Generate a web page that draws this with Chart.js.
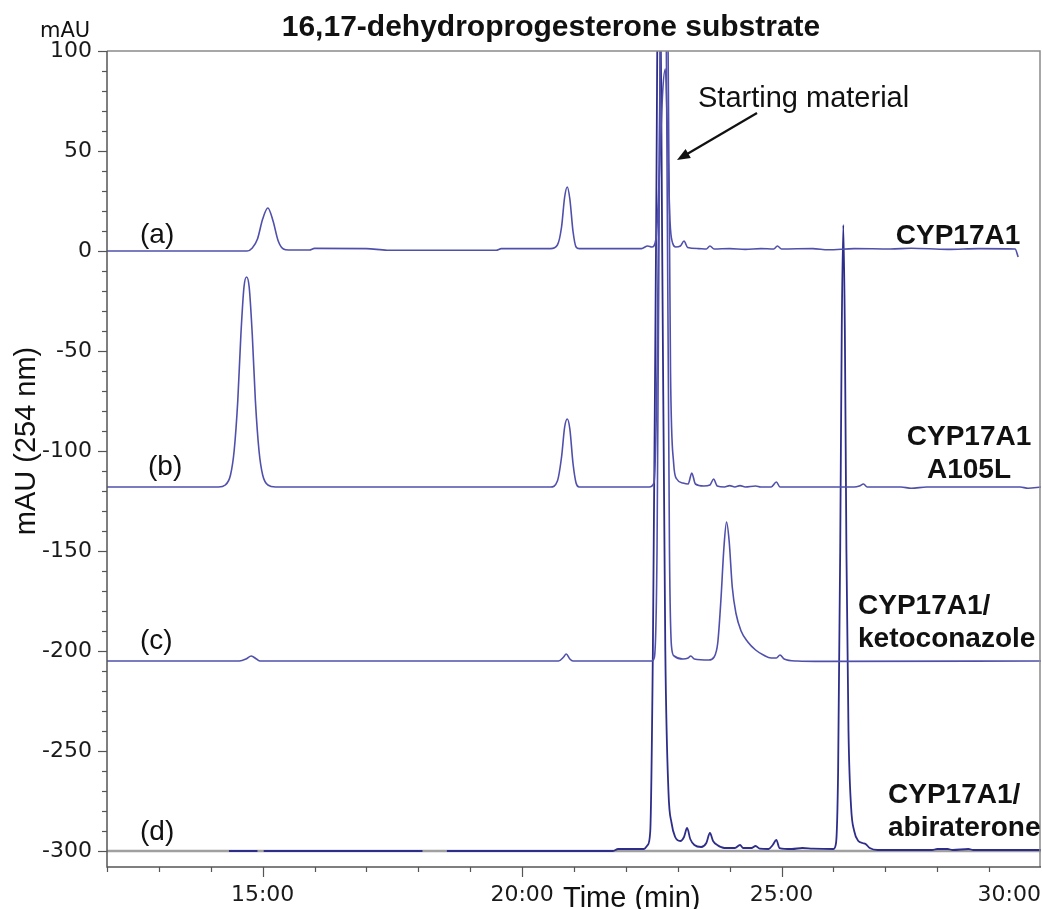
<!DOCTYPE html>
<html><head><meta charset="utf-8">
<script src="https://cdn.jsdelivr.net/npm/chart.js@4/dist/chart.umd.min.js"></script>
<style>html,body{margin:0;padding:0;background:#fff;}#wrap{width:1042px;height:909px;}</style>
</head><body><div id="wrap"><canvas id="c" width="1042" height="909"></canvas></div>
<script>
// ---- data (time in minutes, absorbance in mAU, traces already offset) ----
const traceA = [[12,0],[14.70,0],[14.80,1.5],[14.90,6],[15.00,16],[15.10,21.5],[15.20,15],[15.30,5],[15.40,1],[15.50,0.5],[15.90,0.5],[16.00,1.3],[17.00,1.2],[17.40,0.4],[19.50,0.4],[19.60,1.2],[20.55,1.2],[20.68,3],[20.76,12],[20.82,27],[20.87,32],[20.92,26],[20.98,10],[21.04,2],[21.10,1.2],[22.30,1.2],[22.42,2.5],[22.50,2],[22.58,6],[22.64,35],[22.71,80],[22.76,91],[22.80,60],[22.85,15],[22.90,4],[22.96,2],[23.05,2.5],[23.12,5],[23.19,1.8],[23.40,1.2],[23.55,1],[23.62,2.5],[23.70,1],[24.00,1.2],[24.30,0.8],[24.60,1.2],[24.85,1],[24.92,2.5],[25.00,1],[25.60,1.2],[25.90,0.6],[26.40,1.2],[27.10,1],[27.50,1.4],[28.20,0.8],[28.80,1.2],[29.50,1],[29.56,-3]];
const traceB = [[12,-118],[14.15,-118],[14.28,-117],[14.38,-112],[14.45,-100],[14.52,-75],[14.58,-42],[14.64,-18],[14.69,-13],[14.74,-18],[14.80,-42],[14.86,-75],[14.93,-100],[15.00,-112],[15.10,-117],[15.25,-118],[20.55,-118],[20.68,-115],[20.76,-103],[20.82,-88],[20.87,-84],[20.92,-89],[20.98,-106],[21.04,-116],[21.10,-118],[22.45,-118],[22.54,-116],[22.60,-60],[22.68,150],[22.74,300],[22.80,150],[22.86,-60],[22.92,-106],[22.98,-114],[23.10,-116],[23.20,-116.5],[23.27,-111],[23.34,-116.5],[23.50,-117.5],[23.62,-117],[23.69,-114],[23.76,-117.5],[23.90,-118],[24.00,-117.3],[24.10,-118],[24.20,-117.3],[24.30,-118],[24.50,-117.5],[24.60,-118],[24.80,-118],[24.90,-115.5],[24.97,-118],[26.40,-118],[26.50,-117.5],[26.58,-116.5],[26.65,-118],[27.30,-118],[27.50,-118.6],[27.80,-118],[29.60,-118],[29.75,-118.6],[30,-118]];
const traceC = [[12,-205],[14.55,-205],[14.68,-204],[14.78,-202.5],[14.88,-204],[14.95,-205],[20.70,-205],[20.80,-203],[20.85,-201.5],[20.92,-204],[20.98,-205],[22.50,-205],[22.55,-203],[22.60,-150],[22.66,100],[22.72,300],[22.78,100],[22.84,-150],[22.88,-198],[22.93,-202.5],[23.10,-204],[23.20,-203.5],[23.25,-202.5],[23.32,-204],[23.60,-204.5],[23.70,-203],[23.77,-196],[23.83,-175],[23.89,-148],[23.94,-135.5],[23.99,-145],[24.05,-168],[24.12,-181],[24.22,-190],[24.35,-195.5],[24.50,-199.5],[24.65,-202],[24.80,-203.5],[24.90,-203.5],[24.97,-202],[25.05,-204],[25.30,-205],[25.80,-205.2],[30,-205]];
const traceD = [[14.35,-300],[14.90,-300],[14.95,null],[15.02,-300],[18.08,-300],[18.30,null],[18.55,-300],[21.75,-300],[21.85,-299],[22.35,-299],[22.42,-297],[22.47,-290],[22.52,-200],[22.58,0],[22.64,200],[22.70,0],[22.76,-200],[22.82,-270],[22.88,-286],[22.95,-293],[23.05,-295],[23.12,-293],[23.18,-288.5],[23.24,-294],[23.32,-297],[23.45,-298],[23.55,-296],[23.62,-291],[23.68,-295],[23.76,-297],[23.90,-298.5],[24.10,-298.5],[24.20,-297],[24.26,-298.5],[24.42,-298.5],[24.50,-297.5],[24.58,-298.8],[24.75,-299],[24.83,-297],[24.90,-294.5],[24.96,-298.5],[25.20,-299],[25.40,-298.5],[25.60,-298.8],[26.00,-299],[26.05,-296],[26.09,-260],[26.13,-150],[26.16,-40],[26.19,13],[26.22,-40],[26.25,-150],[26.29,-240],[26.34,-278],[26.40,-290],[26.48,-295],[26.56,-296],[26.62,-296.5],[26.70,-298.5],[26.85,-299.5],[27.90,-299.5],[28.00,-299],[28.20,-299],[28.30,-299.5],[28.60,-299],[28.70,-299.5],[30,-299.5]];
const referenceLine = [[12,-300],[30,-300]];
const traceTags = ['(a)','(b)','(c)','(d)'];
const sampleNames = [['CYP17A1'],['CYP17A1','A105L'],['CYP17A1/','ketoconazole'],['CYP17A1/','abiraterone']];
const xLabelStep = 5;   // labelled every 5 min
const yLabelStep = 50;  // labelled every 50 mAU
const titleText = '16,17-dehydroprogesterone substrate';
const yTitle = 'mAU (254 nm)';
const xTitle = 'Time (min)';
const yUnit = 'mAU';
const arrowText = 'Starting material';

const toXY = arr => arr.map(p => ({x: p[0], y: p[1]}));
const lineColor = '#5050ac';

const overlay = {
  id: 'overlay',
  afterDraw(chart) {
    const ctx = chart.ctx, a = chart.chartArea;
    const xs = chart.scales.x, ys = chart.scales.y;
    ctx.save();
    // frame
    ctx.lineWidth = 1.5;
    ctx.strokeStyle = '#8a8a8a';
    ctx.beginPath();
    ctx.moveTo(a.left, a.top); ctx.lineTo(a.right - 1, a.top); ctx.lineTo(a.right - 1, a.bottom);
    ctx.stroke();
    ctx.strokeStyle = '#555';
    ctx.beginPath();
    ctx.moveTo(a.left, a.top); ctx.lineTo(a.left, a.bottom); ctx.lineTo(a.right, a.bottom);
    ctx.stroke();
    // tick marks
    ctx.lineWidth = 1.2;
    ctx.strokeStyle = '#555';
    ys.ticks.forEach(t => {
      const py = Math.round(ys.getPixelForValue(t.value)) + 0.5;
      const len = t.value % yLabelStep === 0 ? 9 : 5;
      ctx.beginPath(); ctx.moveTo(a.left - len, py); ctx.lineTo(a.left, py); ctx.stroke();
    });
    xs.ticks.forEach(t => {
      if (t.value >= 30) return;
      const px = Math.round(xs.getPixelForValue(t.value)) + 0.5;
      const len = t.value % xLabelStep === 0 ? 10 : 5;
      ctx.beginPath(); ctx.moveTo(px, a.bottom); ctx.lineTo(px, a.bottom + len); ctx.stroke();
    });
    // texts
    ctx.fillStyle = '#111';
    ctx.textBaseline = 'alphabetic';
    ctx.font = '21px "DejaVu Sans"';
    ctx.textAlign = 'left';
    ctx.fillText(yUnit, 40, 37);
    ctx.font = 'bold 30px "Liberation Sans", Arial, sans-serif';
    ctx.textAlign = 'center';
    ctx.fillText(titleText, 551, 36);
    // y title
    ctx.save();
    ctx.translate(27, 441);
    ctx.rotate(-Math.PI / 2);
    ctx.font = '29px "Liberation Sans", Arial, sans-serif';
    ctx.textAlign = 'center';
    ctx.textBaseline = 'middle';
    ctx.fillText(yTitle, 0, 0);
    ctx.restore();
    // x title
    ctx.font = '29px "Liberation Sans", Arial, sans-serif';
    ctx.textAlign = 'left';
    ctx.fillText(xTitle, 563, 907);
    // trace tags
    ctx.font = '28px "Liberation Sans", Arial, sans-serif';
    const tagPos = [[140,243],[148,475],[140,649],[140,840]];
    traceTags.forEach((t, i) => ctx.fillText(t, tagPos[i][0], tagPos[i][1]));
    // sample names
    ctx.font = 'bold 28px "Liberation Sans", Arial, sans-serif';
    const namePos = [[958,244,'center'],[969,445,'center'],[858,614,'left'],[888,803,'left']];
    sampleNames.forEach((lines, i) => {
      ctx.textAlign = namePos[i][2];
      lines.forEach((l, j) => ctx.fillText(l, namePos[i][0], namePos[i][1] + j * 33));
    });
    // starting material arrow
    ctx.font = '29px "Liberation Sans", Arial, sans-serif';
    ctx.textAlign = 'left';
    ctx.fillText(arrowText, 698, 107);
    const x0 = 757, y0 = 113, x1 = 677, y1 = 160;
    ctx.strokeStyle = '#111'; ctx.lineWidth = 2.2;
    ctx.beginPath(); ctx.moveTo(x0, y0); ctx.lineTo(x1 + 8, y1 - 4.7); ctx.stroke();
    const ang = Math.atan2(y1 - y0, x1 - x0);
    ctx.fillStyle = '#111';
    ctx.beginPath();
    ctx.moveTo(x1, y1);
    ctx.lineTo(x1 - 14 * Math.cos(ang - 0.38), y1 - 14 * Math.sin(ang - 0.38));
    ctx.lineTo(x1 - 14 * Math.cos(ang + 0.38), y1 - 14 * Math.sin(ang + 0.38));
    ctx.closePath(); ctx.fill();
    ctx.restore();
  }
};

const ds = (data, color, w) => ({
  data: toXY(data), borderColor: color, borderWidth: w, pointRadius: 0,
  cubicInterpolationMode: 'monotone', spanGaps: false, fill: false
});

new Chart(document.getElementById('c'), {
  type: 'line',
  data: {
    datasets: [
      ds(traceA, lineColor, 1.6),
      ds(traceB, lineColor, 1.6),
      ds(traceC, lineColor, 1.6),
      ds(traceD, '#2e2e8a', 1.8),
      ds(referenceLine, '#a0a0a0', 2.4)
    ]
  },
  options: {
    responsive: false,
    animation: false,
    layout: { padding: { top: 51, right: 1, left: 0, bottom: 0 } },
    plugins: { legend: { display: false }, tooltip: { enabled: false }, title: { display: false } },
    scales: {
      x: {
        type: 'linear', min: 12, max: 30,
        grid: { display: false, drawTicks: false },
        border: { display: false },
        ticks: {
          stepSize: 1, autoSkip: false, maxRotation: 0, align: 'inner', padding: 15,
          color: '#1a1a1a', font: { family: 'DejaVu Sans', size: 22 },
          callback: v => (v % xLabelStep === 0 ? v + ':00' : '')
        },
        afterFit: s => { s.height = 42; s.paddingLeft = 0; s.paddingRight = 0; }
      },
      y: {
        min: -308, max: 100,
        grid: { display: false, drawTicks: false },
        border: { display: false },
        ticks: {
          stepSize: 10, autoSkip: false, includeBounds: false, padding: 15,
          color: '#1a1a1a', font: { family: 'DejaVu Sans', size: 22 },
          callback: v => (v % yLabelStep === 0 ? String(v) : '')
        },
        afterFit: s => { s.width = 107; s.paddingTop = 0; s.paddingBottom = 0; }
      }
    }
  },
  plugins: [overlay]
});
</script></body></html>
